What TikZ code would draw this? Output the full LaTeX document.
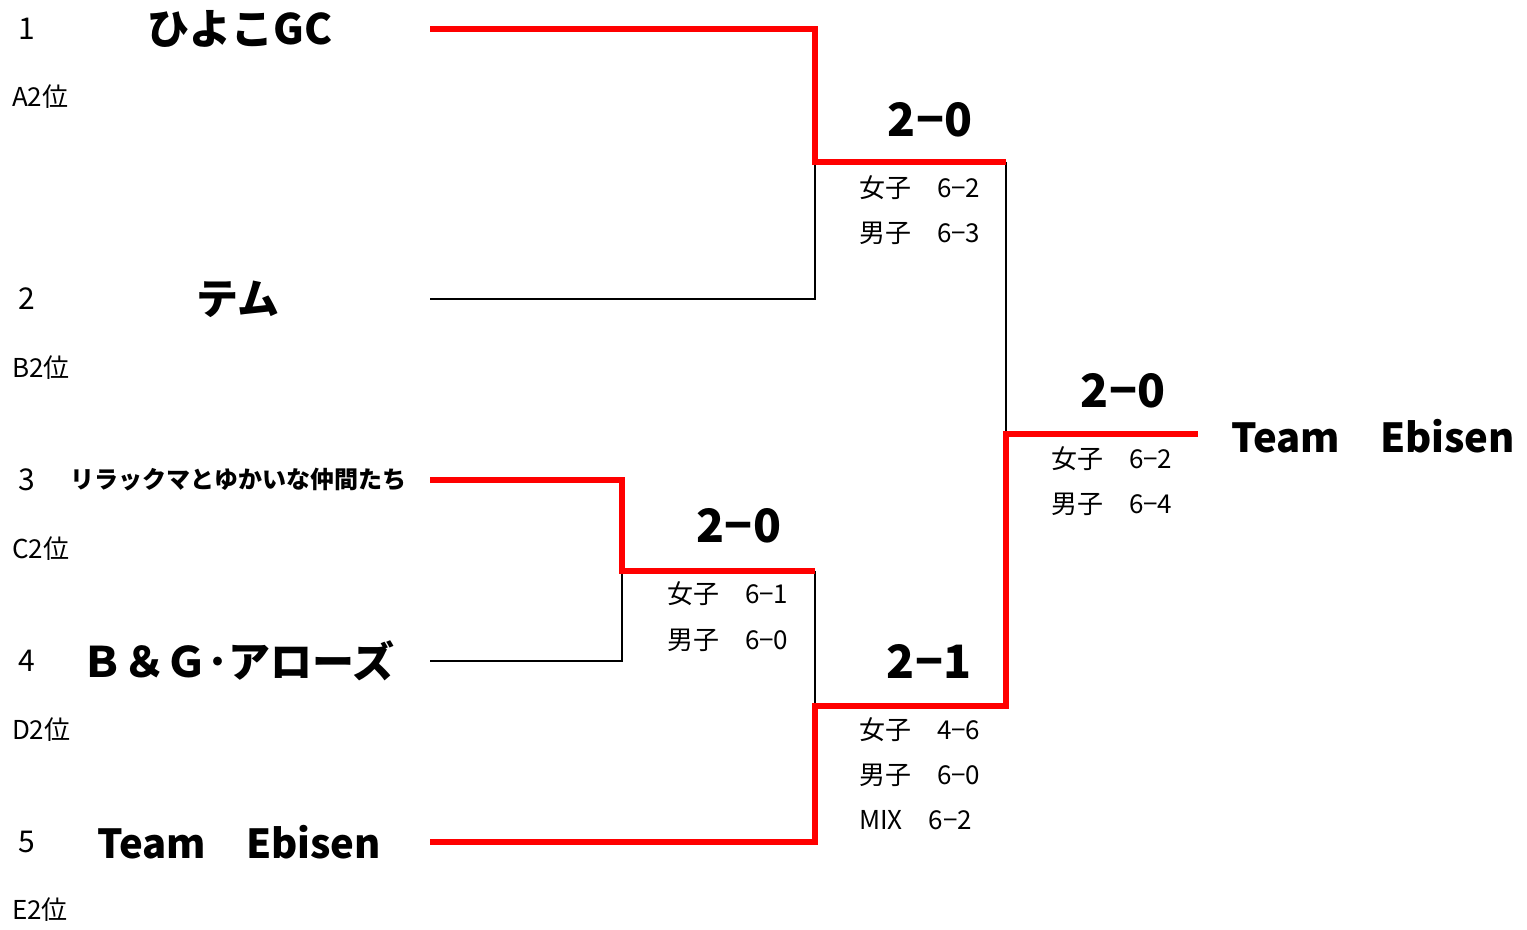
\documentclass[tikz,border=0pt]{standalone}
\usepackage{fontspec}
\setmainfont{Noto Sans CJK JP}

\begin{document}
\begin{tikzpicture}[x=0.5pt,y=-0.5pt,
  seed/.style={font=\fontsize{15}{18}\selectfont},
  rank/.style={anchor=west,font=\fontsize{13}{16}\selectfont},
  team/.style={font=\fontsize{21}{25}\selectfont\bfseries},
  ebisen/.style={font=\fontsize{20}{24}\selectfont\bfseries},
  score/.style={font=\fontsize{23}{28}\selectfont\bfseries},
  game/.style={anchor=west,font=\fontsize{13}{16}\selectfont},
  win/.style={red,line width=3.3pt,line join=miter},
  lose/.style={black,line width=1pt}]
\useasboundingbox (0,0) rectangle (1527,930);
\node[seed] (n1) at (27,29) {1};
\node[seed] (n2) at (27,299) {2};
\node[seed] (n3) at (27,480) {3};
\node[seed] (n4) at (27,661) {4};
\node[seed] (n5) at (27,842) {5};
\node[rank] (r1) at (5,97) {A2位};
\node[rank] (r2) at (5,368) {B2位};
\node[rank] (r3) at (5,549) {C2位};
\node[rank] (r4) at (5,730) {D2位};
\node[rank] (r5) at (5,910) {E2位};
\node[team] (t1) at (240,29) {ひよこGC};
\node[team] (t2) at (238,299) {テム};
\node[team,font=\fontsize{12}{14}\selectfont\bfseries] (t3) at (238,480) {リラックマとゆかいな仲間たち};
\node[team] (t4) at (238,661) {Ｂ＆Ｇ･アローズ};
\node[ebisen] (t5) at (239,842) {Team　Ebisen};
\node[ebisen,anchor=west] (champ) at (1224,436) {Team　Ebisen};
\coordinate (e1) at (430,29);
\coordinate (e2) at (430,299);
\coordinate (e3) at (430,480);
\coordinate (e4) at (430,661);
\coordinate (e5) at (430,842);
\coordinate (m1) at (815,162);
\coordinate (s1) at (1006,162);
\coordinate (m2) at (622,571);
\coordinate (s2) at (815,571);
\coordinate (m3) at (815,706);
\coordinate (s3) at (1006,706);
\coordinate (f) at (1006,434);
\coordinate (fin) at (1198,434);
\draw[lose] (e2) -| (m1);
\draw[lose] (e4) -| (m2);
\draw[lose] (s2) -- (m3);
\draw[lose] (s1) -- (f);
\draw[win] (e1) -| (m1) -- (s1);
\draw[win] (e3) -| (m2) -- (s2);
\draw[win] (e5) -| (m3) -- (s3) -- (f) -- (fin);
\node[score] (g1) at (930,120) {2−0};
\node[game] (g1a) at (852,188) {女子　6−2};
\node[game] (g1b) at (852,233) {男子　6−3};
\node[score] (g2) at (739,526) {2−0};
\node[game] (g2a) at (660,594) {女子　6−1};
\node[game] (g2b) at (660,640) {男子　6−0};
\node[score] (g3) at (929,661) {2−1};
\node[game] (g3a) at (852,730) {女子　4−6};
\node[game] (g3b) at (852,775) {男子　6−0};
\node[game] (g3c) at (852,820) {MIX　6−2};
\node[score] (g4) at (1123,391) {2−0};
\node[game] (g4a) at (1044,459) {女子　6−2};
\node[game] (g4b) at (1044,504) {男子　6−4};
\end{tikzpicture}
\end{document}
